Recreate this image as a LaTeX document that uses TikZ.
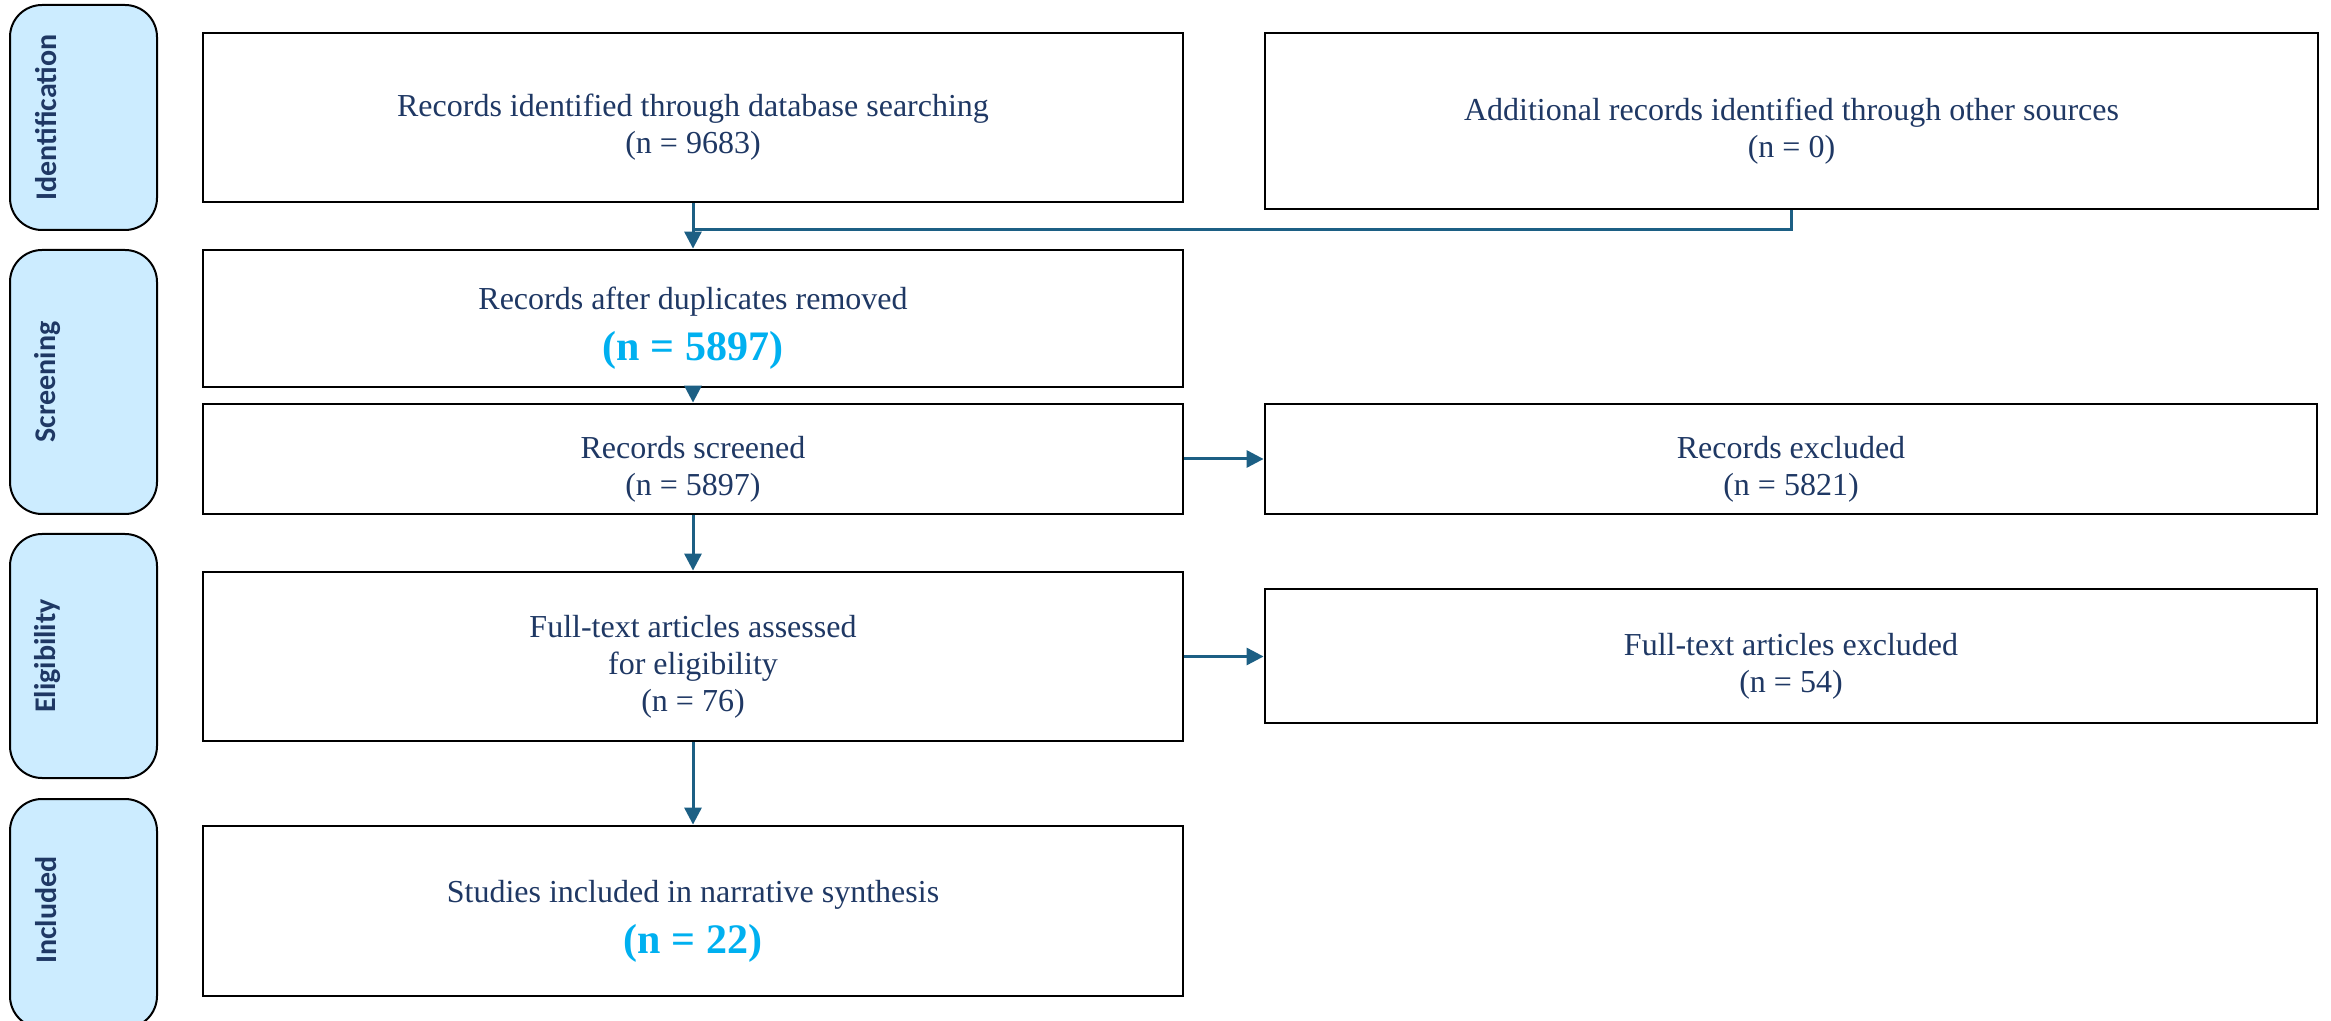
\documentclass[tikz,border=0pt]{standalone}
\usepackage{fontspec}
\setmainfont{Liberation Serif}
\newfontfamily\sidefont{Carlito}
\usetikzlibrary{arrows.meta}
\definecolor{navy}{RGB}{31,56,100}
\definecolor{arrowc}{RGB}{28,95,132}
\definecolor{sidefill}{RGB}{204,236,255}
\definecolor{hilite}{RGB}{0,176,240}
\newcommand{\tstrut}{\rule{0pt}{21pt}}
\begin{document}
\begin{tikzpicture}[x=0.5pt,y=-0.5pt,
  box/.style={draw=black,line width=1.4pt,fill=white,align=center,text=navy,
    font=\fontsize{16}{18.5}\selectfont,inner sep=0pt},
  side/.style={draw=black,line width=1pt,fill=sidefill,rounded corners=16pt,
    minimum width=73.5pt,inner sep=0pt},
  sidelabel/.style={rotate=90,text=navy,font=\sidefont\bfseries\fontsize{15}{18}\selectfont,inner sep=0pt},
  conn/.style={draw=arrowc,line width=1.5pt},
  arr/.style={conn,-{Triangle[length=8.5pt,width=8.5pt]}}
]
\useasboundingbox (0,0) rectangle (2331,1021);
% sidebars
\node[side,minimum height=112.5pt] (s1) at (83.5,117.5) {};
\node[side,minimum height=132pt] (s2) at (83.5,382) {};
\node[side,minimum height=122pt] (s3) at (83.5,656) {};
\node[side,minimum height=114.5pt] (s4) at (83.5,913.5) {};
\node[sidelabel] (l1) at (46,117.5) {Identification};
\node[sidelabel] (l2) at (48,382) {Screening};
\node[sidelabel] (l3) at (48,656) {Eligibility};
\node[sidelabel] (l4) at (46,910) {Included};
% boxes
\node[box,minimum width=490pt,minimum height=84.5pt] (b1) at (693,117.5)
  {\tstrut Records identified through database searching\\(n = 9683)};
\node[box,minimum width=526.5pt,minimum height=88pt] (b2) at (1791.5,121)
  {\tstrut Additional records identified through other sources\\(n = 0)};
\node[box,minimum width=490pt,minimum height=68.5pt] (b3) at (693,318.5)
  {\tstrut Records after duplicates removed\\[7pt]{\fontsize{21}{24}\selectfont\bfseries\color{hilite}(n = 5897)}};
\node[box,minimum width=490pt,minimum height=55pt] (b4) at (693,459)
  {\tstrut Records screened\\(n = 5897)};
\node[box,minimum width=526pt,minimum height=55pt] (b5) at (1791,459)
  {\tstrut Records excluded\\(n = 5821)};
\node[box,minimum width=490pt,minimum height=84.5pt] (b6) at (693,656.5)
  {\tstrut Full-text articles assessed\\for eligibility\\(n = 76)};
\node[box,minimum width=526pt,minimum height=67pt] (b7) at (1791,656)
  {\tstrut Full-text articles excluded\\(n = 54)};
\node[box,minimum width=490pt,minimum height=85pt] (b8) at (693,911)
  {\tstrut Studies included in narrative synthesis\\[7pt]{\fontsize{21}{24}\selectfont\bfseries\color{hilite}(n = 22)}};
% connectors
\coordinate (j) at (693,230);
\draw[arr] (b1.south) -- (b3.north);
\draw[conn] (b2.south) |- (j);
\draw[arr] (b3) -- (b4);
\draw[arr] (b4) -- (b5);
\draw[arr] (b4) -- (b6);
\draw[arr] (b6.east) -- (b6.east -| b7.west);
\draw[arr] (b6) -- (b8);
\end{tikzpicture}
\end{document}
